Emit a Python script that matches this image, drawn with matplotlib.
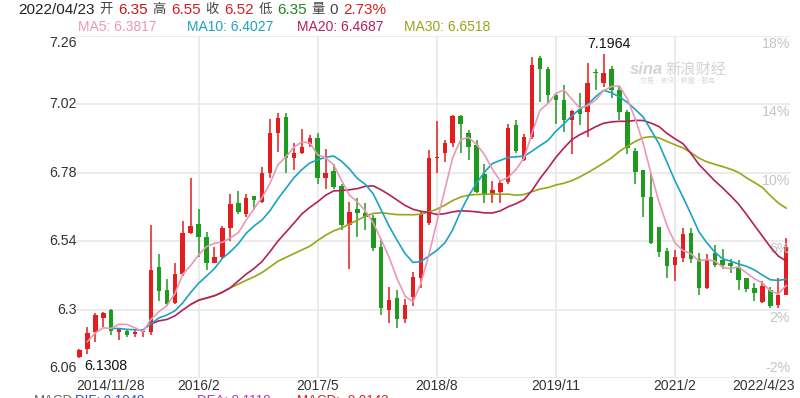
import numpy as np
import pandas as pd
import matplotlib
matplotlib.use("Agg")
import matplotlib.pyplot as plt
import matplotlib.transforms as mtransforms

plt.rcParams['font.family'] = ['Liberation Sans', 'Noto Sans CJK SC', 'DejaVu Sans']

# monthly candles, 2014/11 .. 2022/4
opens = [6.133, 6.161, 6.222, 6.271, 6.299, 6.222, 6.226, 6.214, 6.222, 6.222,
         6.448, 6.369, 6.324, 6.424, 6.568, 6.600, 6.556, 6.465, 6.486, 6.585,
         6.673, 6.636, 6.700, 6.679, 6.778, 6.920, 6.975, 6.831, 6.851, 6.881,
         6.901, 6.762, 6.786, 6.734, 6.597, 6.653, 6.640, 6.621, 6.518, 6.300,
         6.339, 6.266, 6.345, 6.410, 6.603, 6.831, 6.851, 6.883, 6.979, 6.918,
         6.878, 6.776, 6.705, 6.714, 6.749, 6.947, 6.825, 6.907, 7.182, 7.143,
         7.053, 7.035, 6.967, 7.004, 6.995, 7.135, 7.096, 7.143, 7.072, 6.995,
         6.858, 6.790, 6.696, 6.589, 6.507, 6.457, 6.480, 6.570, 6.477, 6.375,
         6.500, 6.475, 6.462, 6.448, 6.410, 6.375, 6.328, 6.369, 6.316, 6.350]
highs = [6.160, 6.240, 6.289, 6.292, 6.303, 6.235, 6.232, 6.228, 6.232, 6.597,
         6.495, 6.406, 6.462, 6.612, 6.760, 6.652, 6.572, 6.518, 6.593, 6.704,
         6.717, 6.704, 6.700, 6.800, 6.968, 6.989, 6.989, 6.883, 6.934, 6.913,
         6.918, 6.862, 6.811, 6.741, 6.679, 6.690, 6.673, 6.633, 6.547, 6.378,
         6.369, 6.336, 6.433, 6.644, 6.860, 6.963, 6.895, 6.983, 6.983, 6.930,
         6.895, 6.811, 6.752, 6.752, 6.951, 6.965, 6.916, 7.185, 7.190, 7.152,
         7.060, 7.088, 7.002, 7.060, 7.166, 7.143, 7.1964, 7.154, 7.081, 7.000,
         6.866, 6.790, 6.778, 6.591, 6.515, 6.509, 6.585, 6.585, 6.497, 6.495,
         6.527, 6.512, 6.477, 6.475, 6.410, 6.395, 6.401, 6.378, 6.410, 6.550]
lows = [6.1308, 6.145, 6.188, 6.238, 6.211, 6.195, 6.205, 6.205, 6.205, 6.211,
        6.331, 6.313, 6.320, 6.418, 6.565, 6.486, 6.439, 6.462, 6.477, 6.542,
        6.636, 6.625, 6.650, 6.673, 6.760, 6.854, 6.780, 6.790, 6.846, 6.872,
        6.741, 6.724, 6.724, 6.579, 6.441, 6.556, 6.579, 6.507, 6.281, 6.254,
        6.237, 6.254, 6.313, 6.375, 6.597, 6.780, 6.819, 6.870, 6.851, 6.825,
        6.708, 6.673, 6.673, 6.675, 6.741, 6.851, 6.823, 6.900, 7.030, 7.026,
        6.950, 6.924, 6.846, 6.947, 6.907, 7.070, 7.080, 7.041, 6.965, 6.846,
        6.741, 6.626, 6.530, 6.486, 6.410, 6.401, 6.468, 6.462, 6.351, 6.371,
        6.450, 6.444, 6.427, 6.369, 6.363, 6.330, 6.322, 6.304, 6.307, 6.350]
closes = [6.158, 6.217, 6.281, 6.288, 6.226, 6.232, 6.212, 6.220, 6.226, 6.439,
          6.366, 6.320, 6.424, 6.570, 6.593, 6.554, 6.465, 6.483, 6.585, 6.671,
          6.644, 6.690, 6.685, 6.778, 6.918, 6.971, 6.831, 6.851, 6.872, 6.901,
          6.760, 6.778, 6.729, 6.597, 6.644, 6.638, 6.625, 6.515, 6.304, 6.334,
          6.266, 6.316, 6.413, 6.636, 6.831, 6.837, 6.883, 6.979, 6.950, 6.872,
          6.714, 6.705, 6.720, 6.745, 6.936, 6.858, 6.904, 7.158, 7.143, 7.053,
          7.035, 6.965, 6.998, 6.986, 7.096, 7.131, 7.131, 7.070, 6.995, 6.866,
          6.784, 6.696, 6.5325, 6.503, 6.453, 6.483, 6.565, 6.477, 6.375, 6.477,
          6.457, 6.457, 6.453, 6.404, 6.371, 6.357, 6.383, 6.313, 6.351, 6.520]

x_ticks = [0, 15, 30, 45, 60, 75, 89]
x_labels = ['2014/11/28', '2016/2', '2017/5', '2018/8', '2019/11', '2021/2', '2022/4/23']
price_ticks = [7.26, 7.02, 6.78, 6.54, 6.3, 6.06]
price_labels = ['7.26', '7.02', '6.78', '6.54', '6.3', '6.06']
pct_labels = ['18%', '14%', '10%', '6%', '2%', '-2%']

ma_periods = [5, 10, 20, 30]
ma_shown = ['6.3817', '6.4027', '6.4687', '6.6518']   # values printed in the legend row
ma_colors = ['#eb98b8', '#1ba3c2', '#b51f5c', '#98a515']

header = [('2022/04/23', '#222222'), ('开', '#444444'), ('6.35', '#c41a1a'),
          ('高', '#444444'), ('6.55', '#d42020'), ('收', '#444444'), ('6.52', '#d42020'),
          ('低', '#444444'), ('6.35', '#1a8a1a'), ('量', '#444444'), ('0', '#444444'),
          ('2.73%', '#d42020')]
ma_text_x = [78, 187, 297, 404]

macd_row = [('MACD', '#666666'), ('DIF: 0.1049', '#2a4fd0'), ('DEA: 0.1118', '#b030b0'),
            ('MACD: -0.0142', '#d42020')]
macd_x = [34, 75, 197, 297]

UP = '#e31e1e'
DOWN = '#1e9a1e'

df = pd.DataFrame({'open': opens, 'high': highs, 'low': lows, 'close': closes})
idx = np.arange(len(df))

fig = plt.figure(figsize=(8, 3.98), dpi=100)
W, H = 800, 398
ax = fig.add_axes([76 / W, 20 / H, 714 / W, 342 / H])
ax.set_xlim(-0.44, 89.48)
ax.set_ylim(6.06, 7.26)
for s in ax.spines.values():
    s.set_visible(False)
ax.set_xticks([])
ax.set_yticks([])

for p in price_ticks:
    ax.axhline(p, color='#e8e8e8', lw=1.2, zorder=0)
for t in x_ticks[1:-1]:
    ax.axvline(t, color='#e8e8e8', lw=1.2, zorder=0)

# candles
up = df['close'] >= df['open']
colors = np.where(up, UP, DOWN)
ax.vlines(idx, df['low'], df['high'], colors=colors, lw=1.1, zorder=2)
body_bottom = np.minimum(df['open'], df['close'])
body_h = np.maximum((df['close'] - df['open']).abs(), 0.003)
ax.bar(idx, body_h, bottom=body_bottom, width=0.56, color=colors, zorder=3, linewidth=0)

# moving averages (longer ones drawn first)
for n, c in zip(ma_periods[::-1], ma_colors[::-1]):
    ma = df['close'].rolling(n, min_periods=max(1, n // 2)).mean()
    ax.plot(idx, ma, color=c, lw=1.2, zorder=4)

# left / right axis labels
def ylab_transform(dy):
    tr = mtransforms.blended_transform_factory(fig.transFigure, ax.transData)
    return tr + mtransforms.ScaledTranslation(0, dy / 100, fig.dpi_scale_trans)

for i, (p, lab) in enumerate(zip(price_ticks, price_labels)):
    dy = -7 if i == 0 else (10 if i == len(price_ticks) - 1 else 0)
    ax.text(76.5 / W, p, lab, transform=ylab_transform(dy), ha='right', va='center',
            fontsize=10.2, color='#333333', clip_on=False)
for i, (p, lab) in enumerate(zip(price_ticks, pct_labels)):
    dy = -8 if i < len(price_ticks) - 1 else 10
    ax.text(790 / W, p, lab, transform=ylab_transform(dy), ha='right', va='center',
            fontsize=10.2, color='#c4c4c4', clip_on=False)

# x labels
xt = mtransforms.blended_transform_factory(ax.transData, fig.transFigure)
for t, lab in zip(x_ticks, x_labels):
    ha = 'left' if t == x_ticks[0] else ('right' if t == x_ticks[-1] else 'center')
    xpos = t if ha == 'center' else (-0.44 if ha == 'left' else 90.1)
    ax.text(xpos, 1 - 386 / H, lab, transform=xt, ha=ha, va='center',
            fontsize=10, color='#333333', clip_on=False)

# max / min markers
imax = int(np.argmax(highs))
imin = int(np.argmin(lows))
off = lambda dx, dy: mtransforms.offset_copy(ax.transData, fig=fig, x=dx, y=dy, units='dots')
ax.text(imax, highs[imax], f'{highs[imax]:.4f}', transform=off(5, 3), ha='center',
        va='bottom', fontsize=10.2, color='#111111')
ax.text(imin, lows[imin], f'{lows[imin]:.4f}', transform=off(5, -1), ha='left',
        va='top', fontsize=10.2, color='#111111')

# header row, laid out left to right
fig.canvas.draw()
renderer = fig.canvas.get_renderer()
x = 18
for s, c in header:
    cjk = not s[0].isascii()
    t = fig.text(x / W, 1 - 10 / H, s, ha='left', va='center',
                 fontsize=9.6 if cjk else 11, color=c)
    x += t.get_window_extent(renderer).width + 5
for n, v, c, xx in zip(ma_periods, ma_shown, ma_colors, ma_text_x):
    fig.text(xx / W, 1 - 27 / H, f'MA{n}: {v}', ha='left', va='center',
             fontsize=10, color=c)

# watermark
fig.text(630 / W, 1 - 70 / H, 'sina', ha='left', va='center', fontsize=12,
         color='#d4d4d4', style='italic', weight='bold')
fig.text(665 / W, 1 - 70 / H, '新浪财经', ha='left', va='center', fontsize=11,
         color='#d4d4d4')
fig.text(640 / W, 1 - 81 / H, '交易 · 资讯 · 数据 · 服务', ha='left', va='center',
         fontsize=5, color='#d8d8d8')

# MACD row, cut off by the bottom edge as in the source
for (s, c), xx in zip(macd_row, macd_x):
    fig.text(xx / W, 1 - 401 / H, s, ha='left', va='center', fontsize=9.5, color=c)

fig.savefig('out.png', dpi=100, facecolor='white')
